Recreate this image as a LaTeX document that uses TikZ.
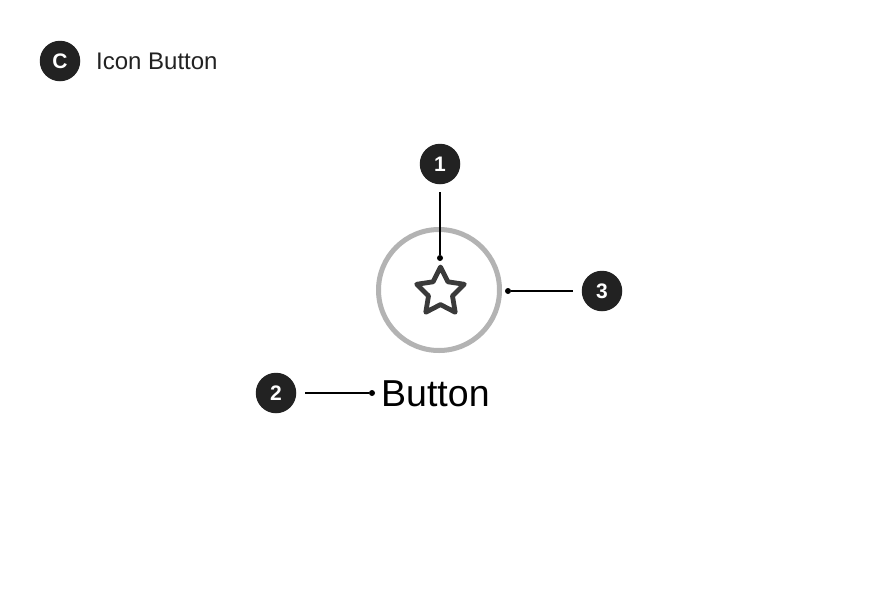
\documentclass[tikz,border=0pt]{standalone}
\usepackage{fontspec}
\setmainfont{Liberation Sans}
\usetikzlibrary{calc}
\definecolor{ink}{HTML}{222222}
\definecolor{ringgray}{HTML}{B3B3B3}
\definecolor{stargray}{HTML}{3A3A3A}
\tikzset{
  badge/.style={circle, fill=ink, minimum size=40.5pt, inner sep=0pt, text=white, font=\fontsize{21}{21}\selectfont\bfseries},
  leader/.style={draw=black, line width=1.5pt},
  dotend/.style={circle, fill=black, minimum size=6pt, inner sep=0pt},
}
\begin{document}
\begin{tikzpicture}[x=1pt,y=-1pt]
\useasboundingbox (0,0) rectangle (876,600);
\fill[white] (0,0) rectangle (876,600);
% header
\node[badge] (bc) at (60,61) {C};
\node[anchor=base west, inner sep=0pt, text=ink, font=\fontsize{24}{24}\selectfont] (title) at (96,69) {Icon Button};
% ring
\node[circle, draw=ringgray, line width=5pt, minimum size=121pt, inner sep=0pt] (ring) at (439,290) {};
% star
\coordinate (starc) at (440.5,292);
\def\R{25}\def\r{12.6}
\draw[stargray, line width=4.8pt, line join=round]
  ($(starc)+(-90:\R)$)
  \foreach \k in {0,...,4} {
    -- ($(starc)+({-90+72*\k+36}:\r)$) -- ($(starc)+({-90+72*(\k+1)}:\R)$)
  } -- cycle;
% badge 1
\node[badge] (b1) at (440,164) {1};
\node[dotend] (d1) at (440,258) {};
\draw[leader, shorten <=8pt] (b1.south) -- (d1);
% badge 3
\node[badge] (b3) at (602,291) {3};
\node[dotend] (d3) at (508,291) {};
\draw[leader, shorten <=9pt] (b3.west) -- (d3);
% button label
\node[anchor=base west, inner sep=0pt, text=black, font=\fontsize{37.5}{37.5}\selectfont] (btn) at (381,406) {Button};
\node[badge] (b2) at (276,393) {2};
\node[dotend] (d2) at (372,393) {};
\draw[leader, shorten <=9pt] (b2.east) -- (d2);
\end{tikzpicture}
\end{document}
